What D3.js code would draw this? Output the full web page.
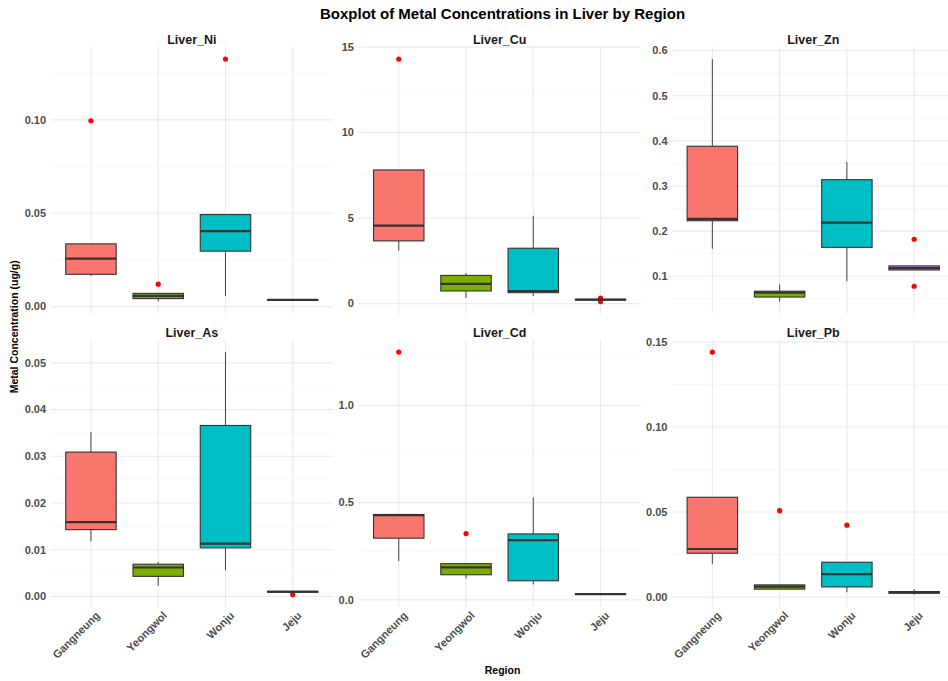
<!DOCTYPE html>
<html>
<head>
<meta charset="utf-8">
<script src="https://cdn.jsdelivr.net/npm/d3@7"></script>
<style>
  html, body { margin: 0; padding: 0; background: #ffffff; }
  svg { display: block; font-family: "Liberation Sans", Arial, Helvetica, sans-serif; }
</style>
</head>
<body>
<svg id="chart" width="948" height="681"></svg>
<script>
// Regions on the x axis, in plotting order
const regions = ["Gangneung", "Yeongwol", "Wonju", "Jeju"];
const regionColors = ["#F8766D", "#7CAE00", "#00BFC4", "#C77CFF"];

// Facet names, in reading order
const metals = ["Liver_Ni", "Liver_Cu", "Liver_Zn", "Liver_As", "Liver_Cd", "Liver_Pb"];

// Box statistics per region: [lower whisker, Q1, median, Q3, upper whisker]
const niStats = [[0.0164, 0.0173, 0.0257, 0.0336, 0.0336], [0.0027, 0.0043, 0.0057, 0.0071, 0.0071], [0.0057, 0.0297, 0.0404, 0.0493, 0.0493], [0.0033, 0.0034, 0.0036, 0.0037, 0.0037]];
const cuStats = [[3.10, 3.67, 4.56, 7.82, 7.82], [0.33, 0.74, 1.16, 1.65, 1.79], [0.45, 0.64, 0.74, 3.24, 5.14], [0.20, 0.21, 0.23, 0.25, 0.25]];
const znStats = [[0.161, 0.223, 0.227, 0.388, 0.581], [0.044, 0.054, 0.064, 0.067, 0.0816], [0.089, 0.164, 0.219, 0.314, 0.353], [0.114, 0.114, 0.118, 0.123, 0.123]];
const asStats = [[0.0118, 0.0143, 0.0159, 0.0309, 0.0352], [0.0023, 0.0043, 0.0062, 0.0069, 0.0074], [0.0056, 0.0104, 0.0113, 0.0366, 0.0523], [0.0009, 0.0009, 0.0010, 0.0011, 0.0011]];
const cdStats = [[0.200, 0.317, 0.436, 0.439, 0.439], [0.110, 0.129, 0.167, 0.186, 0.186], [0.079, 0.098, 0.307, 0.339, 0.527], [0.027, 0.028, 0.029, 0.031, 0.032]];
const pbStats = [[0.0195, 0.0258, 0.0283, 0.0587, 0.0587], [0.0047, 0.0047, 0.0062, 0.0072, 0.0072], [0.0029, 0.0060, 0.0135, 0.0205, 0.0205], [0.0015, 0.0023, 0.0028, 0.0033, 0.0047]];

// Outlying points per region
const niOutliers = [[0.0995], [0.0120], [0.1325], []];
const cuOutliers = [[14.30], [], [], [0.33, 0.12]];
const znOutliers = [[], [], [], [0.182, 0.078]];
const asOutliers = [[], [], [], [0.0004]];
const cdOutliers = [[1.274], [0.341], [], []];
const pbOutliers = [[0.1440], [0.0508], [0.0423], []];

// Y-axis breaks and their labels per facet
const niTicks = [0, 0.05, 0.10];
const niTickLabels = ["0.00", "0.05", "0.10"];
const cuTicks = [0, 5, 10, 15];
const cuTickLabels = ["0", "5", "10", "15"];
const znTicks = [0.1, 0.2, 0.3, 0.4, 0.5, 0.6];
const znTickLabels = ["0.1", "0.2", "0.3", "0.4", "0.5", "0.6"];
const asTicks = [0, 0.01, 0.02, 0.03, 0.04, 0.05];
const asTickLabels = ["0.00", "0.01", "0.02", "0.03", "0.04", "0.05"];
const cdTicks = [0, 0.5, 1.0];
const cdTickLabels = ["0.0", "0.5", "1.0"];
const pbTicks = [0, 0.05, 0.10, 0.15];
const pbTickLabels = ["0.00", "0.05", "0.10", "0.15"];

const facets = [
  { stats: niStats, outliers: niOutliers, ticks: niTicks, labels: niTickLabels },
  { stats: cuStats, outliers: cuOutliers, ticks: cuTicks, labels: cuTickLabels },
  { stats: znStats, outliers: znOutliers, ticks: znTicks, labels: znTickLabels },
  { stats: asStats, outliers: asOutliers, ticks: asTicks, labels: asTickLabels },
  { stats: cdStats, outliers: cdOutliers, ticks: cdTicks, labels: cdTickLabels },
  { stats: pbStats, outliers: pbOutliers, ticks: pbTicks, labels: pbTickLabels }
].map((f, i) => Object.assign(f, { name: metals[i] }));

// Layout of the 2 x 3 facet grid
const colLeft = [50.6, 358.4, 672];
const panelW = 282.5;
const rowTop = [47, 340];
const panelH = 266.7;

const svg = d3.select("#chart");

svg.append("text")
  .attr("x", (colLeft[0] + colLeft[2] + panelW) / 2)
  .attr("y", 19)
  .attr("text-anchor", "middle")
  .attr("font-size", 15)
  .attr("font-weight", "bold")
  .attr("fill", "#000")
  .text("Boxplot of Metal Concentrations in Liver by Region");

facets.forEach((f, i) => {
  const row = Math.floor(i / 3), col = i % 3;
  const left = colLeft[col], top = rowTop[row];
  const right = left + panelW, bottom = top + panelH;

  // Data extent including whiskers and outliers, expanded by 5% each side
  const vals = f.stats.flat().concat(f.outliers.flat());
  const lo = d3.min(vals), hi = d3.max(vals);
  const pad = (hi - lo) * 0.05;
  const y = d3.scaleLinear().domain([lo - pad, hi + pad]).range([bottom, top]);
  const x = d3.scalePoint().domain(regions).range([left, right]).padding(0.6);
  const bw = x.step() * 0.75;

  const g = svg.append("g");

  // Minor gridlines halfway between breaks
  const step = f.ticks[1] - f.ticks[0];
  const minor = [];
  for (let v = f.ticks[0] - step / 2; v <= y.domain()[1]; v += step) {
    if (v >= y.domain()[0]) minor.push(v);
  }
  g.selectAll(".minor").data(minor).join("line")
    .attr("x1", left).attr("x2", right)
    .attr("y1", d => y(d)).attr("y2", d => y(d))
    .attr("stroke", "#F4F4F4").attr("stroke-width", 0.6);

  // Major gridlines
  g.selectAll(".hmajor").data(f.ticks).join("line")
    .attr("x1", left).attr("x2", right)
    .attr("y1", d => y(d)).attr("y2", d => y(d))
    .attr("stroke", "#EBEBEB").attr("stroke-width", 1.1);
  g.selectAll(".vmajor").data(regions).join("line")
    .attr("x1", d => x(d)).attr("x2", d => x(d))
    .attr("y1", top).attr("y2", bottom)
    .attr("stroke", "#EBEBEB").attr("stroke-width", 1.1);

  // Y tick labels
  g.selectAll(".ytick").data(f.ticks).join("text")
    .attr("x", left - 4.5)
    .attr("y", d => y(d))
    .attr("dy", "0.35em")
    .attr("text-anchor", "end")
    .attr("font-size", 11)
    .attr("font-weight", "bold")
    .attr("fill", "#4D4D4D")
    .text((d, k) => f.labels[k]);

  // Facet strip title
  g.append("text")
    .attr("x", (left + right) / 2)
    .attr("y", top - 3)
    .attr("text-anchor", "middle")
    .attr("font-size", 12.5)
    .attr("font-weight", "bold")
    .attr("fill", "#1A1A1A")
    .text(f.name);

  // X tick labels only on the bottom row
  if (row === 1) {
    g.selectAll(".xtick").data(regions).join("text")
      .attr("transform", d => `translate(${x(d) + 4},${bottom + 4}) rotate(-45)`)
      .attr("dy", "0.7em")
      .attr("text-anchor", "end")
      .attr("font-size", 11)
      .attr("font-weight", "bold")
      .attr("fill", "#4D4D4D")
      .text(d => d);
  }

  const boxes = f.stats.map((s, k) => ({ region: regions[k], color: regionColors[k], s }));

  // Outliers
  f.outliers.forEach((arr, k) => {
    g.selectAll(null).data(arr).join("circle")
      .attr("cx", x(regions[k]))
      .attr("cy", d => y(d))
      .attr("r", 2.6)
      .attr("fill", "#FF0000");
  });

  // Whiskers
  g.selectAll(".wlo").data(boxes).join("line")
    .attr("x1", d => x(d.region)).attr("x2", d => x(d.region))
    .attr("y1", d => y(d.s[0])).attr("y2", d => y(d.s[1]))
    .attr("stroke", "#444").attr("stroke-width", 1);
  g.selectAll(".whi").data(boxes).join("line")
    .attr("x1", d => x(d.region)).attr("x2", d => x(d.region))
    .attr("y1", d => y(d.s[3])).attr("y2", d => y(d.s[4]))
    .attr("stroke", "#444").attr("stroke-width", 1);

  // Boxes
  g.selectAll(".box").data(boxes).join("rect")
    .attr("x", d => x(d.region) - bw / 2)
    .attr("width", bw)
    .attr("y", d => y(d.s[3]))
    .attr("height", d => Math.max(0.5, y(d.s[1]) - y(d.s[3])))
    .attr("fill", d => d.color)
    .attr("stroke", "#333333")
    .attr("stroke-width", 1.1);

  // Medians
  g.selectAll(".median").data(boxes).join("line")
    .attr("x1", d => x(d.region) - bw / 2).attr("x2", d => x(d.region) + bw / 2)
    .attr("y1", d => y(d.s[2])).attr("y2", d => y(d.s[2]))
    .attr("stroke", "#333333").attr("stroke-width", 2.2);
});

// Axis titles
svg.append("text")
  .attr("x", (colLeft[0] + colLeft[2] + panelW) / 2)
  .attr("y", 674)
  .attr("text-anchor", "middle")
  .attr("font-size", 10.5)
  .attr("font-weight", "bold")
  .attr("fill", "#000")
  .text("Region");

svg.append("text")
  .attr("transform", `translate(18,${(rowTop[0] + rowTop[1] + panelH) / 2}) rotate(-90)`)
  .attr("text-anchor", "middle")
  .attr("font-size", 10.5)
  .attr("font-weight", "bold")
  .attr("fill", "#000")
  .text("Metal Concentration (ug/g)");
</script>
</body>
</html>
